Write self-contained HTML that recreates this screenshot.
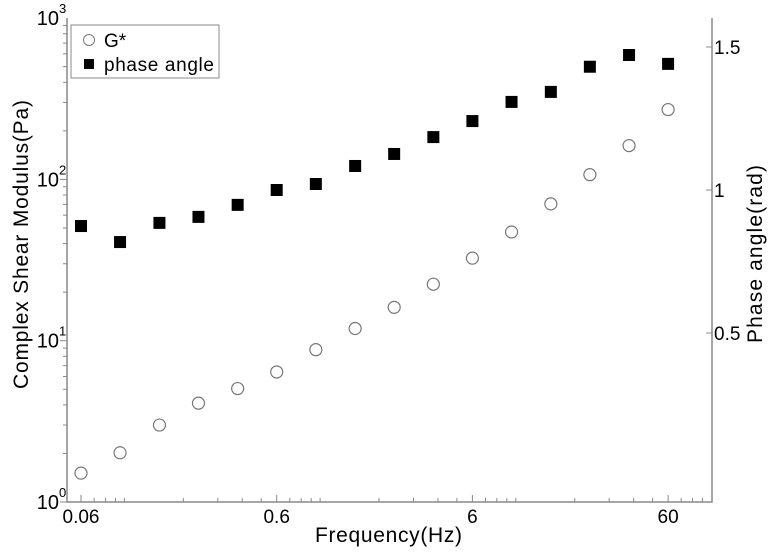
<!DOCTYPE html>
<html><head><meta charset="utf-8"><style>
body{margin:0;background:#fff}
svg{display:block;font-family:"Liberation Sans",sans-serif}
</style></head><body>
<svg width="771" height="554">
<g id="axes"></g><g id="marks"></g>
<g>
<rect x="71" y="25" width="148" height="53" fill="#fff" stroke="#888" stroke-width="1"/>
<circle cx="89" cy="40" r="5.5" fill="#fff" stroke="#777"/>
<text x="104" y="47" font-size="19">G*</text>
<rect x="84" y="59" width="10" height="10" fill="#000"/>
<text x="104" y="71" font-size="19" textLength="110">phase angle</text>
</g>
<text x="315" y="542" font-size="21" textLength="147">Frequency(Hz)</text>
<text transform="translate(28,389) rotate(-90)" font-size="21" textLength="289">Complex Shear Modulus(Pa)</text>
<text transform="translate(762,343) rotate(-90)" font-size="21" textLength="178">Phase angle(rad)</text>
</svg>
<script>
const freqs=[0.06,0.095,0.151,0.239,0.379,0.6,0.951,1.51,2.39,3.79,6,9.51,15.1,23.9,37.9,60];
const gstar=[1.51,2.02,3.0,4.1,5.05,6.4,8.8,11.9,16.1,22.4,32.5,47.2,70.5,107,162,271];
const phase=[0.874,0.818,0.885,0.906,0.948,1.0,1.021,1.084,1.126,1.185,1.241,1.308,1.343,1.431,1.472,1.441];
const xTicks=[0.06,0.6,6,60];
const xTickLabels=["0.06","0.6","6","60"];
const yTicksExp=[0,1,2,3];
const rTicks=[0.5,1,1.5];
const rTickLabels=["0.5","1","1.5"];
const L=67,R=712,T=18,B=502;
const xs=v=>81+(Math.log10(v)-Math.log10(0.06))*195.7;
const ys=v=>B-Math.log10(v)*161.3;
const yr=v=>190-(v-1)*286;
const NS='http://www.w3.org/2000/svg';
const ax=document.getElementById('axes'),mk=document.getElementById('marks');
function el(t,a,p){const e=document.createElementNS(NS,t);for(const k in a)e.setAttribute(k,a[k]);p.appendChild(e);return e;}
const g='#888';
let e;
e=el('path',{d:`M${L},${T}V${B}H${R}V${T}`,fill:'none',stroke:g,'stroke-width':1.5},ax);


for(let d=0;d<3;d++)for(let m=1;m<10;m++){const y=ys(m*Math.pow(10,d));e=el('line',{x1:L-(m==1?7:4),x2:L,y1:y,y2:y,stroke:g},ax);

}
yTicksExp.forEach(p=>{const y=ys(Math.pow(10,p));
e=el('text',{x:L-8,y:y+7,'font-size':20,'text-anchor':'end'},ax);e.textContent='10';


e=el('text',{x:L-8,y:y-5,'font-size':13},ax);e.textContent=String(p);

});
for(let d=-2;d<2;d++)for(let m=1;m<10;m++){const v=m*Math.pow(10,d);const x=xs(v);if(x<L||x>R)continue;const maj=xTicks.some(t=>Math.abs(t-v)<1e-9);
e=el('line',{x1:x,x2:x,y1:B-(maj?7:4),y2:B,stroke:g},ax);

}
xTicks.forEach((v,i)=>{e=el('text',{x:xs(v),y:B+21,'font-size':19,'text-anchor':'middle'},ax);e.textContent=xTickLabels[i];

});
rTicks.forEach((v,i)=>{const y=yr(v);e=el('line',{x1:R-6,x2:R,y1:y,y2:y,stroke:g},ax);


e=el('text',{x:R+2,y:y+7,'font-size':19},ax);e.textContent=rTickLabels[i];

});
freqs.forEach((f,i)=>{
e=el('circle',{cx:xs(f),cy:ys(gstar[i]),r:6,fill:'#fff',stroke:'#777','stroke-width':1.2},mk);


e=el('rect',{x:xs(f)-6,y:yr(phase[i])-6,width:12,height:12,fill:'#000'},mk);


});
</script>
</body></html>
